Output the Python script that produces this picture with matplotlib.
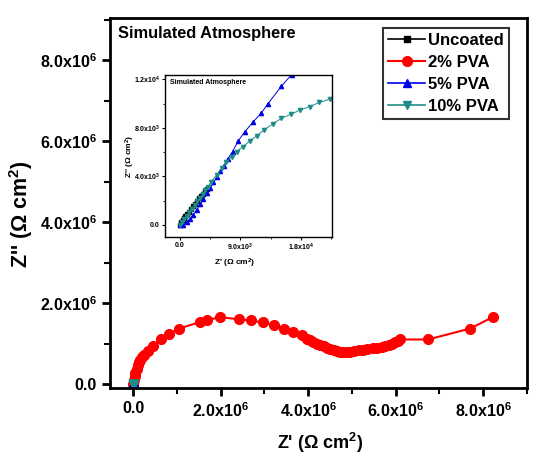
import matplotlib
matplotlib.use("Agg")
import matplotlib.pyplot as plt
from matplotlib.ticker import MultipleLocator, FuncFormatter

plt.rcParams['font.family'] = ['Liberation Sans', 'DejaVu Sans']
plt.rcParams['mathtext.default'] = 'regular'

# ---------------- data ----------------
red_x = [0, 0.01e6, 0.03e6, 0.05e6, 0.08e6, 0.10e6, 0.13e6, 0.16e6, 0.20e6, 0.24e6,
         0.33e6, 0.46e6, 0.63e6, 0.82e6, 1.05e6, 1.52e6, 1.68e6, 1.99e6, 2.42e6, 2.69e6,
         2.96e6, 3.22e6, 3.44e6, 3.66e6, 3.85e6, 3.98e6, 4.05e6, 4.12e6, 4.20e6, 4.27e6,
         4.35e6, 4.43e6, 4.50e6, 4.58e6, 4.65e6, 4.73e6, 4.80e6, 4.88e6, 4.96e6, 5.04e6,
         5.15e6, 5.26e6, 5.35e6, 5.47e6, 5.58e6, 5.68e6, 5.76e6, 5.84e6, 5.92e6, 5.99e6,
         6.05e6, 6.10e6, 6.74e6, 7.70e6, 8.23e6]
red_y = [0, 0.10e6, 0.20e6, 0.28e6, 0.38e6, 0.47e6, 0.54e6, 0.60e6, 0.66e6, 0.72e6,
         0.81e6, 0.95e6, 1.10e6, 1.24e6, 1.37e6, 1.53e6, 1.58e6, 1.65e6, 1.60e6, 1.57e6,
         1.52e6, 1.46e6, 1.36e6, 1.28e6, 1.20e6, 1.11e6, 1.08e6, 1.04e6, 1.00e6, 0.96e6,
         0.93e6, 0.90e6, 0.87e6, 0.84e6, 0.82e6, 0.80e6, 0.79e6, 0.79e6, 0.80e6, 0.82e6,
         0.83e6, 0.83e6, 0.86e6, 0.90e6, 0.90e6, 0.91e6, 0.93e6, 0.96e6, 1.00e6, 1.04e6,
         1.07e6, 1.10e6, 1.10e6, 1.37e6, 1.66e6]

unc_x = [0, 200, 400, 600, 800, 1000, 1300, 1600, 1900, 2200, 2500, 2800, 3100, 3400, 3700, 4000]
unc_y = [0, 200, 380, 550, 720, 880, 1100, 1320, 1550, 1750, 1970, 2180, 2380, 2580, 2780, 2970]

p5_x = [0, 500, 1000, 1500, 2000, 2500, 3000, 3500, 4000, 4500, 5000, 5500, 6000, 6500,
        7090, 7830, 8670, 9670, 10900, 12050, 13100, 15100, 16600]
p5_y = [0, 0, 200, 500, 850, 1250, 1700, 2150, 2600, 3050, 3500, 3950, 4450, 4900,
        5420, 6050, 6930, 7700, 8500, 9200, 10000, 11460, 12400]

p10_x = [0, 300, 600, 1000, 1400, 1800, 2200, 2600, 3000, 3400, 3800, 4200, 4700, 5460,
         6200, 6900, 7700, 8430, 9400, 10400, 11400, 12500, 13800, 15100, 16500, 17850,
         19300, 20700, 22300]
p10_y = [0, 200, 450, 750, 1050, 1350, 1650, 1950, 2250, 2550, 2850, 3150, 3570, 4120,
         4670, 5220, 5630, 6050, 6460, 6930, 7340, 7840, 8330, 8800, 9130, 9480,
         9760, 10100, 10370]

series_names = ['Uncoated', '2% PVA', '5% PVA', '10% PVA']
main_xticks = [0, 2e6, 4e6, 6e6, 8e6]
main_yticks = [0, 2e6, 4e6, 6e6, 8e6]
inset_xticks = [0, 9e3, 1.8e4]
inset_yticks = [0, 4e3, 8e3, 1.2e4]

C_BLACK = 'black'
C_RED = '#ff0000'
C_BLUE = '#0000e6'
C_TEAL = '#1e8c86'


def sci_fmt(v, pos=None):
    if v == 0:
        return '0.0'
    import math
    e = int(math.floor(math.log10(abs(v)) + 1e-9))
    m = v / 10 ** e
    return '%.1fx10$^{%d}$' % (m, e)


fig = plt.figure(figsize=(5.4, 4.69), dpi=100)
ax = fig.add_axes([0.2037, 0.1727, 0.7722, 0.7889])

ax.plot(unc_x, unc_y, '-s', color=C_BLACK, ms=5, lw=1.2, label=series_names[0])
ax.plot(red_x, red_y, '-o', color=C_RED, ms=7, lw=1.5, label=series_names[1])
ax.plot(p5_x, p5_y, '-^', color=C_BLUE, ms=6, lw=1.2, label=series_names[2])
ax.plot(p10_x, p10_y, '-v', color=C_TEAL, ms=6, lw=1.2, label=series_names[3])

ax.set_xlim(-0.53e6, 9.0e6)
ax.set_ylim(-0.1e6, 9.05e6)
ax.set_xticks(main_xticks)
ax.set_yticks(main_yticks)
ax.xaxis.set_minor_locator(MultipleLocator(1e6))
ax.yaxis.set_minor_locator(MultipleLocator(1e6))
ax.xaxis.set_major_formatter(FuncFormatter(sci_fmt))
ax.yaxis.set_major_formatter(FuncFormatter(sci_fmt))
ax.tick_params(which='major', direction='out', length=6, width=2, labelsize=11.5)
ax.tick_params(which='minor', direction='out', length=4, width=1.5)
for lab in ax.get_xticklabels() + ax.get_yticklabels():
    lab.set_fontweight('bold')
for s in ax.spines.values():
    s.set_linewidth(2)

ax.set_xlabel("Z' ($\\Omega$ cm$^2$)", fontsize=13, fontweight='bold')
ax.set_ylabel("Z'' ($\\Omega$ cm$^2$)", fontsize=15.5, fontweight='bold')
ax.xaxis.set_label_coords(0.504, -0.116)
ax.yaxis.set_label_coords(-0.18, 0.47)
ax.text(0.019, 0.978, 'Simulated Atmosphere', transform=ax.transAxes, fontsize=11.8,
        fontweight='bold', va='top', ha='left')

leg = ax.legend(loc='upper right', bbox_to_anchor=(0.957, 0.973), frameon=True,
                fancybox=False, edgecolor='black', handlelength=2.2,
                handletextpad=0.2, borderpad=0.3, labelspacing=0.42,
                borderaxespad=0, prop={'weight': 'bold', 'size': 12})
leg.get_frame().set_linewidth(1.5)

# ---------------- inset ----------------
ins = fig.add_axes([0.3056, 0.4947, 0.3092, 0.3454])
ins.plot(unc_x, unc_y, '-s', color=C_BLACK, ms=2.5, lw=0.7)
ins.plot(p5_x, p5_y, '-^', color=C_BLUE, ms=3, lw=0.7)
ins.plot(p10_x, p10_y, '-v', color=C_TEAL, ms=3, lw=0.7)
ins.set_xlim(-2200, 22600)
ins.set_ylim(-1000, 12370)
ins.set_xticks(inset_xticks)
ins.set_yticks(inset_yticks)
ins.xaxis.set_minor_locator(MultipleLocator(4500))
ins.yaxis.set_minor_locator(MultipleLocator(2000))
ins.xaxis.set_major_formatter(FuncFormatter(sci_fmt))
ins.yaxis.set_major_formatter(FuncFormatter(sci_fmt))
ins.tick_params(which='major', direction='out', length=2.5, width=0.8, labelsize=5, pad=1.2)
ins.tick_params(which='minor', direction='out', length=1.5, width=0.6)
for lab in ins.get_xticklabels() + ins.get_yticklabels():
    lab.set_fontweight('bold')
for s in ins.spines.values():
    s.set_linewidth(1.0)
ins.set_xlabel("Z' ($\\Omega$ cm$^2$)", fontsize=6, fontweight='bold')
ins.set_ylabel("Z'' ($\\Omega$ cm$^2$)", fontsize=6, fontweight='bold')
ins.xaxis.set_label_coords(0.42, -0.123)
ins.yaxis.set_label_coords(-0.168, 0.5)
ins.text(0.03, 0.975, 'Simulated Atmosphere', transform=ins.transAxes, fontsize=5,
         fontweight='bold', va='top', ha='left')

fig.savefig('out.png', dpi=100)
